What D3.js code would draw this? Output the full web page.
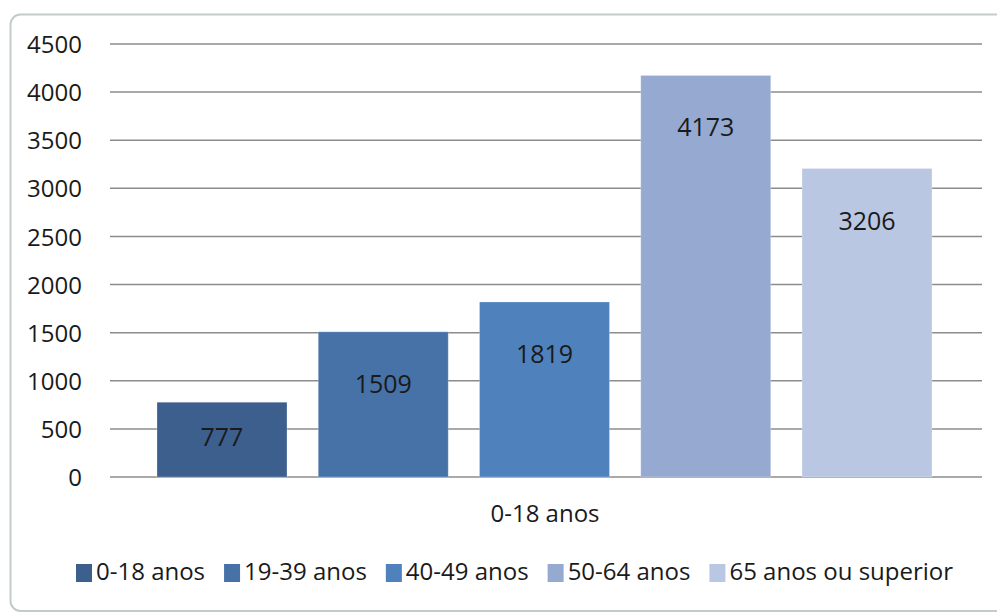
<!DOCTYPE html>
<html>
  <head>
    <meta charset="utf-8">
    <style>
      body { margin: 0; background-color: white; }
      text { font-family: "Open Sans", sans-serif; fill: #1a1a1a; }
    </style>
  </head>
  <body>
    <svg width="997" height="614"></svg>
    <script src="https://d3js.org/d3.v7.min.js"></script>
    <script>
    // data
    var category = "0-18 anos";
    var series = ["0-18 anos", "19-39 anos", "40-49 anos", "50-64 anos", "65 anos ou superior"];
    var values = [777, 1509, 1819, 4173, 3206];
    var ticks = [0, 500, 1000, 1500, 2000, 2500, 3000, 3500, 4000, 4500];
    var colors = ["#3c5f8d", "#4672a8", "#4f81bd", "#95a9d1", "#bac7e2"];

    var svg = d3.select("svg");

    // outer frame
    svg.append("rect")
        .attr("x", 10.5).attr("y", 14.5)
        .attr("width", 1010).attr("height", 596.5)
        .attr("rx", 10)
        .attr("fill", "white")
        .attr("stroke", "#c3cbcc")
        .attr("stroke-width", 2);

    var plotL = 110, plotR = 982, plotT = 44, plotB = 477;

    var y = d3.scaleLinear().domain([0, 4500]).range([plotB, plotT]);
    var x = d3.scaleBand().domain(series).range([157, 932]).paddingInner(0.194);

    // grid
    svg.append("g").selectAll("line")
        .data(ticks)
      .enter().append("line")
        .attr("x1", plotL).attr("x2", plotR)
        .attr("y1", function(d) { return y(d); })
        .attr("y2", function(d) { return y(d); })
        .attr("stroke", "#8c8c8c")
        .attr("stroke-width", 1.5);

    // y axis labels
    var yAxis = svg.append("g")
        .attr("transform", "translate(" + (plotL - 24) + ",0)")
        .call(d3.axisLeft(y).tickValues(ticks).tickSize(0).tickPadding(4).tickFormat(d3.format("d")));
    yAxis.select(".domain").remove();
    yAxis.selectAll("text")
        .attr("font-family", null)
        .attr("font-size", null)
        .style("font-size", "24px")
        .style("fill", "#1a1a1a")
        .attr("dy", "0.36em");

    // bars
    svg.append("g").selectAll("rect")
        .data(values)
      .enter().append("rect")
        .attr("x", function(d, i) { return x(series[i]); })
        .attr("y", function(d) { return y(d); })
        .attr("width", x.bandwidth())
        .attr("height", function(d) { return plotB - y(d); })
        .attr("fill", function(d, i) { return colors[i]; })
        .attr("stroke", "rgba(255,255,255,0.25)")
        .attr("stroke-width", 1);

    // value labels
    svg.append("g").selectAll("text")
        .data(values)
      .enter().append("text")
        .attr("x", function(d, i) { return x(series[i]) + x.bandwidth() / 2; })
        .attr("y", function(d) { return Math.min(y(d) + 52, (y(d) + plotB) / 2 - 3); })
        .attr("dy", "0.36em")
        .attr("text-anchor", "middle")
        .style("font-size", "25px")
        .text(function(d) { return d; });

    // category label
    svg.append("text")
        .attr("x", 545).attr("y", 522)
        .attr("text-anchor", "middle")
        .style("font-size", "24px")
        .text(category);

    // legend
    var legend = svg.append("g");
    var lx = 76;
    series.forEach(function(s, i) {
      legend.append("rect")
          .attr("x", lx).attr("y", 564)
          .attr("width", 16).attr("height", 18)
          .attr("fill", colors[i]);
      var t = legend.append("text")
          .attr("x", lx + 20).attr("y", 580)
          .style("font-size", "24px")
          .text(s);
      lx += 20 + t.node().getComputedTextLength() + 19;
    });
    </script>
  </body>
</html>
